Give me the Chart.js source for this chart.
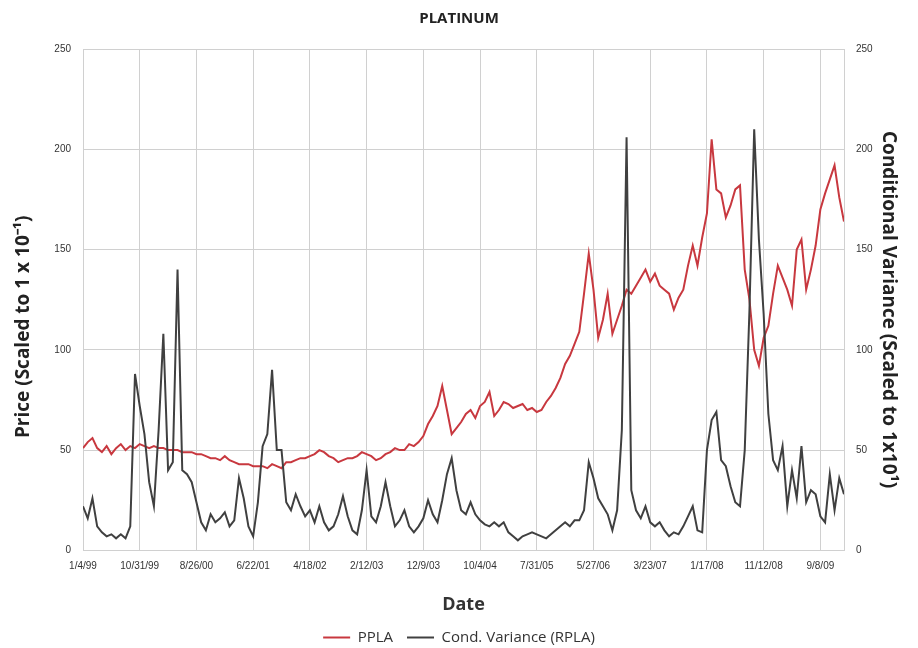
<!DOCTYPE html>
<html>
<head>
<meta charset="utf-8">
<script src="https://cdn.jsdelivr.net/npm/chart.js@4.4.0/dist/chart.umd.min.js"></script>
<style>
  html, body { margin: 0; padding: 0; background: #fff; }
  #wrap { width: 918px; height: 648px; }
</style>
</head>
<body>
<div id="wrap"><canvas id="platinumChart"></canvas></div>
<script>
// one date label every 12 points (300 days apart)
const dateLabels = ['1/4/99', '10/31/99', '8/26/00', '6/22/01', '4/18/02', '2/12/03', '12/9/03',
    '10/4/04', '7/31/05', '5/27/06', '3/23/07', '1/17/08', '11/12/08', '9/8/09'];
const pointsPerLabel = 12;
const priceTicks = [0, 50, 100, 150, 200, 250];

const ppla = [
    51, 54, 56, 51, 49, 52, 48, 51, 53, 50,
    52, 51, 53, 52, 51, 52, 51, 51, 50, 50,
    50, 49, 49, 49, 48, 48, 47, 46, 46, 45,
    47, 45, 44, 43, 43, 43, 42, 42, 42, 41,
    43, 42, 41, 44, 44, 45, 46, 46, 47, 48,
    50, 49, 47, 46, 44, 45, 46, 46, 47, 49,
    48, 47, 45, 46, 48, 49, 51, 50, 50, 53,
    52, 54, 57, 63, 67, 72, 82, 70, 58, 61,
    64, 68, 70, 66, 72, 74, 79, 67, 70, 74,
    73, 71, 72, 73, 70, 71, 69, 70, 74, 77,
    81, 86, 93, 97, 103, 109, 128, 148, 130, 106,
    115, 128, 108, 115, 122, 130, 128, 132, 136, 140,
    134, 138, 132, 130, 128, 120, 126, 130, 142, 152,
    142, 156, 168, 205, 180, 178, 166, 172, 180, 182,
    140, 125, 100, 92, 106, 112, 128, 142, 136, 130,
    122, 150, 155, 130, 140, 152, 170, 178, 185, 192,
    176, 164
];

const condVariance = [
    22, 16, 26, 12, 9, 7, 8, 6, 8, 6,
    12, 88, 72, 58, 34, 22, 60, 108, 40, 44,
    140, 40, 38, 34, 24, 14, 10, 18, 14, 16,
    19, 12, 15, 36, 26, 12, 7, 24, 52, 58,
    90, 50, 50, 24, 20, 28, 22, 17, 20, 14,
    22, 14, 10, 12, 18, 27, 17, 10, 8, 20,
    40, 17, 14, 22, 34, 22, 12, 15, 20, 12,
    9, 12, 16, 25, 18, 14, 25, 38, 46, 30,
    20, 18, 24, 18, 15, 13, 12, 14, 12, 14,
    9, 7, 5, 7, 8, 9, 8, 7, 6, 8,
    10, 12, 14, 12, 15, 15, 20, 44, 36, 26,
    22, 18, 10, 20, 60, 206, 30, 20, 16, 22,
    14, 12, 14, 10, 7, 9, 8, 12, 17, 22,
    10, 9, 50, 65, 69, 45, 42, 32, 24, 22,
    50, 120, 210, 155, 118, 68, 45, 40, 52, 22,
    40, 26, 52, 24, 30, 28, 17, 14, 38, 20,
    36, 28
];

const gridColor = '#d0d0d0';
const tickFont = { family: 'Liberation Sans', size: 10 };
const axisTitleFont = { family: 'Open Sans', size: 19, weight: 'bold' };
const pad = '\u00A0';

function toPoints(values) {
    return values.map((v, i) => ({ x: i, y: v }));
}

const ctx = document.getElementById('platinumChart').getContext('2d');
new Chart(ctx, {
    type: 'line',
    data: {
        datasets: [{
            label: 'PPLA',
            data: toPoints(ppla),
            borderColor: '#c8383f',
            backgroundColor: '#c8383f',
            borderWidth: 2,
            pointRadius: 0,
            yAxisID: 'y',
            order: 1
        }, {
            label: 'Cond. Variance (RPLA)',
            data: toPoints(condVariance),
            borderColor: '#404040',
            backgroundColor: '#404040',
            borderWidth: 2,
            pointRadius: 0,
            yAxisID: 'y2',
            order: 0
        }]
    },
    options: {
        responsive: true,
        maintainAspectRatio: false,
        animation: false,
        layout: { padding: { left: 8, right: 8, top: 6, bottom: -7 } },
        plugins: {
            title: {
                display: true,
                text: 'PLATINUM',
                color: '#222',
                font: { family: 'Open Sans', size: 15, weight: 'bold' },
                padding: { top: 4, bottom: 21 }
            },
            legend: {
                position: 'bottom',
                labels: {
                    color: '#333',
                    font: { family: 'Open Sans', size: 15 },
                    usePointStyle: true,
                    pointStyle: 'line',
                    pointStyleWidth: 27,
                    padding: 14,
                    sort: (a, b) => a.datasetIndex - b.datasetIndex
                }
            },
            tooltip: { enabled: false }
        },
        scales: {
            x: {
                type: 'linear',
                min: 0,
                max: ppla.length - 1,
                grid: { color: gridColor, drawTicks: false },
                border: { color: gridColor },
                ticks: {
                    stepSize: pointsPerLabel,
                    includeBounds: false,
                    autoSkip: false,
                    maxRotation: 0,
                    padding: 10,
                    color: '#333',
                    font: tickFont,
                    callback: v => (v % pointsPerLabel === 0 ? dateLabels[v / pointsPerLabel] : '')
                },
                title: {
                    display: true, text: 'Date', color: '#333',
                    font: { family: 'Open Sans', size: 18, weight: 'bold' },
                    padding: { top: 12, bottom: 0 }
                }
            },
            y: {
                position: 'left',
                min: 0,
                max: 250,
                afterFit: scale => { scale.width = 75; },
                afterBuildTicks: scale => { scale.ticks = priceTicks.map(v => ({ value: v })); },
                grid: { color: gridColor, drawTicks: false },
                border: { color: gridColor },
                ticks: { padding: 12, color: '#333', font: tickFont },
                title: {
                    display: true, text: 'Price (Scaled to 1 x 10\u207B\u00B9)' + pad.repeat(11),
                    color: '#222', font: axisTitleFont, padding: { top: 4, bottom: 0 }
                }
            },
            y2: {
                position: 'right',
                min: 0,
                max: 250,
                afterFit: scale => { scale.width = 66; },
                afterBuildTicks: scale => { scale.ticks = priceTicks.map(v => ({ value: v })); },
                grid: { drawOnChartArea: false, drawTicks: false },
                border: { color: gridColor },
                ticks: { padding: 12, color: '#333', font: tickFont },
                title: {
                    display: true, text: pad.repeat(4) + 'Conditional Variance (Scaled to 1x10\u00B9)',
                    color: '#222', font: axisTitleFont, padding: { top: 10, bottom: 0 }
                }
            }
        }
    }
});
</script>
</body>
</html>
